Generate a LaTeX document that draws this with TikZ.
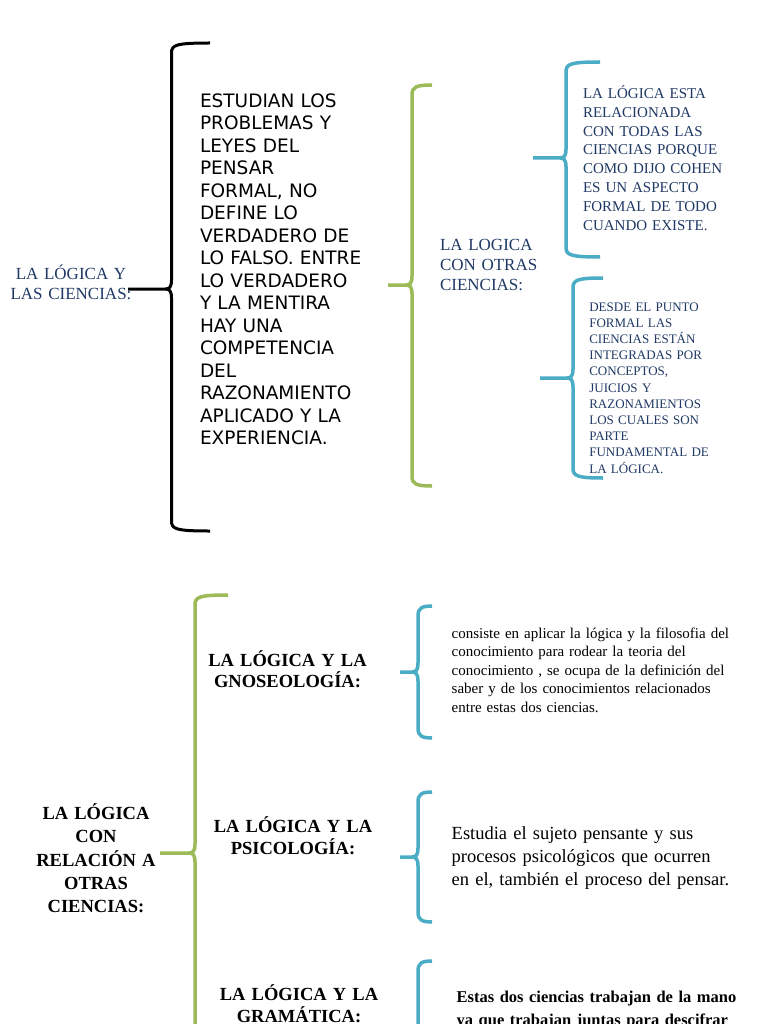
\documentclass[tikz,border=0pt]{standalone}
\usepackage{fontspec}
\setmainfont{Liberation Serif}
\newfontfamily\sinserif{DejaVu Sans}
\definecolor{azuloscuro}{RGB}{31,56,100}
\definecolor{verdellave}{RGB}{155,187,89}
\definecolor{azulllave}{RGB}{75,172,198}
% llave: estilo, x, arriba, punta, abajo, fin del gancho, fin de la punta
\newcommand{\llave}[7]{%
  \draw[#1] (#6,#3) .. controls (#2+4,#3) and (#2,#3+2) .. (#2,#3+10)
    -- (#2,#4-9) .. controls (#2,#4-2) and (#2-2,#4) .. (#2-6,#4) -- (#7,#4);
  \draw[#1] (#2-6,#4) .. controls (#2-2,#4) and (#2,#4+2) .. (#2,#4+9)
    -- (#2,#5-10) .. controls (#2,#5-2) and (#2+4,#5) .. (#6,#5);}
\begin{document}
\begin{tikzpicture}[x=1pt, y=-1pt, every node/.style={inner sep=0pt, outer sep=0pt},
    negra/.style={draw=black, line width=3pt},
    verde/.style={draw=verdellave, line width=3.5pt},
    celeste/.style={draw=azulllave, line width=3.5pt},
    titulo/.style={text=azuloscuro, align=center, text width=150pt, anchor=base},
    azultxt/.style={text=azuloscuro, align=left, text width=180pt, anchor=base west},
    negrita/.style={align=center, text width=180pt, anchor=base},
    cuerpo/.style={align=left, text width=310pt, anchor=base west}]
\useasboundingbox (0,0) rectangle (768,1024);
\clip (0,0) rectangle (768,1024);

% primera parte
\node[titulo, font=\fontsize{17}{20}\selectfont] (ciencias) at (71,279) {LA LÓGICA Y\\LAS CIENCIAS:};
\node[anchor=base west, align=left, text width=190pt, font=\sinserif\fontsize{18.5}{22.5}\selectfont] (estudian) at (200,107.4)
  {ESTUDIAN LOS\\PROBLEMAS Y\\LEYES DEL\\PENSAR\\FORMAL, NO\\DEFINE LO\\VERDADERO DE\\LO FALSO. ENTRE\\LO VERDADERO\\Y LA MENTIRA\\HAY UNA\\COMPETENCIA\\DEL\\RAZONAMIENTO\\APLICADO Y LA\\EXPERIENCIA.};
\node[azultxt, font=\fontsize{17}{19.7}\selectfont] (otras) at (440,250.6) {LA LOGICA\\CON OTRAS\\CIENCIAS:};
\node[azultxt, font=\fontsize{15}{18.9}\selectfont] (cohen) at (583,98.3)
  {LA LÓGICA ESTA\\RELACIONADA\\CON TODAS LAS\\CIENCIAS PORQUE\\COMO DIJO COHEN\\ES UN ASPECTO\\FORMAL DE TODO\\CUANDO EXISTE.};
\node[azultxt, font=\fontsize{13}{16.2}\selectfont] (punto) at (589.3,311)
  {DESDE EL PUNTO\\FORMAL LAS\\CIENCIAS ESTÁN\\INTEGRADAS POR\\CONCEPTOS,\\JUICIOS Y\\RAZONAMIENTOS\\LOS CUALES SON\\PARTE\\FUNDAMENTAL DE\\LA LÓGICA.};

\llave{negra}{171.5}{43}{289}{531}{210}{128}
\llave{verde}{412}{85}{285}{486}{432}{388}
\llave{celeste}{566}{62}{158}{257}{600}{533}
\llave{celeste}{573}{278}{378}{478}{603}{540}

% segunda parte
\node[negrita, font=\bfseries\fontsize{18.5}{23.3}\selectfont] (relacion) at (96,819.5) {LA LÓGICA\\CON\\RELACIÓN A\\OTRAS\\CIENCIAS:};
\node[negrita, font=\bfseries\fontsize{18.5}{21.7}\selectfont] (gnoseo) at (287.5,666.2) {LA LÓGICA Y LA\\GNOSEOLOGÍA:};
\node[negrita, font=\bfseries\fontsize{18.5}{21.7}\selectfont] (psico) at (293,832.9) {LA LÓGICA Y LA\\PSICOLOGÍA:};
\node[negrita, font=\bfseries\fontsize{18.5}{21.7}\selectfont] (grama) at (299,1000.5) {LA LÓGICA Y LA\\GRAMÁTICA:};

\node[cuerpo, font=\fontsize{15}{18.5}\selectfont] (gnoseotxt) at (451.7,638)
  {consiste en aplicar la lógica y la filosofia del\\conocimiento para rodear la teoria del\\conocimiento , se ocupa de la definición del\\saber y de los conocimientos relacionados\\entre estas dos ciencias.};
\node[cuerpo, font=\fontsize{18.5}{23.3}\selectfont] (psicotxt) at (451.7,839)
  {Estudia el sujeto pensante y sus\\procesos psicológicos que ocurren\\en el, también el proceso del pensar.};
\node[cuerpo, font=\bfseries\fontsize{16.5}{23.5}\selectfont] (gramatxt) at (456.7,1002)
  {Estas dos ciencias trabajan de la mano\\ya que trabajan juntas para descifrar};

\llave{verde}{195}{595}{853}{1200}{228}{160}
\llave{celeste}{418}{606}{672}{738}{432}{400}
\llave{celeste}{418}{792}{857}{922}{432}{400}
\llave{celeste}{418}{961}{1100}{1200}{432}{400}
\end{tikzpicture}
\end{document}
